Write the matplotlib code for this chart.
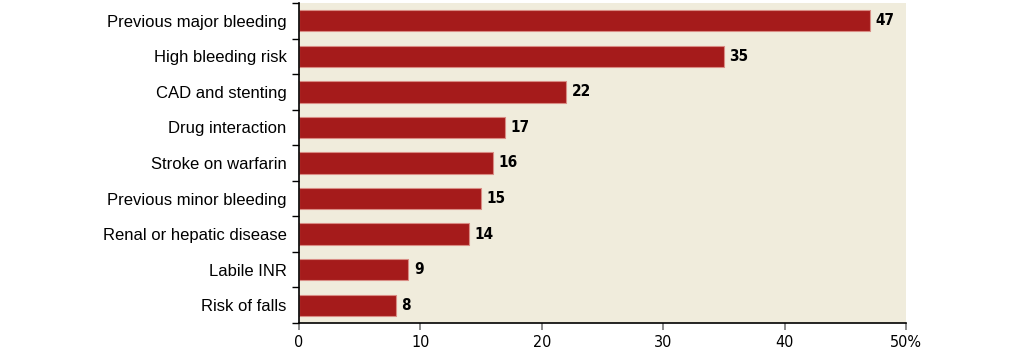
import matplotlib
matplotlib.use("Agg")
import matplotlib.pyplot as plt
import matplotlib.ticker as ticker
import numpy as np

categories = ["Previous major bleeding",
              "High bleeding risk",
              "CAD and stenting",
              "Drug interaction",
              "Stroke on warfarin",
              "Previous minor bleeding",
              "Renal or hepatic disease",
              "Labile INR",
              "Risk of falls"]
values = [47, 35, 22, 17, 16, 15, 14, 9, 8]
x_ticks = [0, 10, 20, 30, 40, 50]
x_tick_labels = ["0", "10", "20", "30", "40", "50%"]

bar_color = "#a51b1b"
bg_color = "#f0ecdc"

fig = plt.figure(figsize=(10.33, 3.54), dpi=100)
ax = fig.add_axes([0.2895, 0.0876, 0.5875, 0.904])
ax.set_facecolor(bg_color)

y_pos = np.arange(len(categories))
ax.barh(y_pos, values, height=0.6, color=bar_color, edgecolor="#d98c84", linewidth=0.8)

#  数值标签
for y, v in zip(y_pos, values):
    ax.text(v + 0.45, y, str(v), va="center", ha="left", fontsize=11,
            fontweight="bold", fontstretch="condensed", family="DejaVu Sans")

ax.set_ylim(len(categories) - 0.5, -0.5)
ax.set_xlim(0, 50)

ax.set_yticks(y_pos)
ax.set_yticklabels(categories, fontsize=12, family="Liberation Sans")
ax.yaxis.set_minor_locator(ticker.FixedLocator(np.arange(-0.5, len(categories), 1)))
ax.tick_params(axis="y", which="major", length=0, pad=9)
ax.tick_params(axis="y", which="minor", length=5, width=1, color="black", direction="out")

ax.set_xticks(x_ticks)
ax.set_xticklabels(x_tick_labels, fontsize=11.5, fontstretch="condensed")
ax.tick_params(axis="x", length=5, width=1.2, color="#777777", direction="out", pad=4)

for s in ["top", "right"]:
    ax.spines[s].set_visible(False)
ax.spines["left"].set_linewidth(1.2)
ax.spines["bottom"].set_linewidth(1.2)

fig.savefig("out.png", dpi=100)
